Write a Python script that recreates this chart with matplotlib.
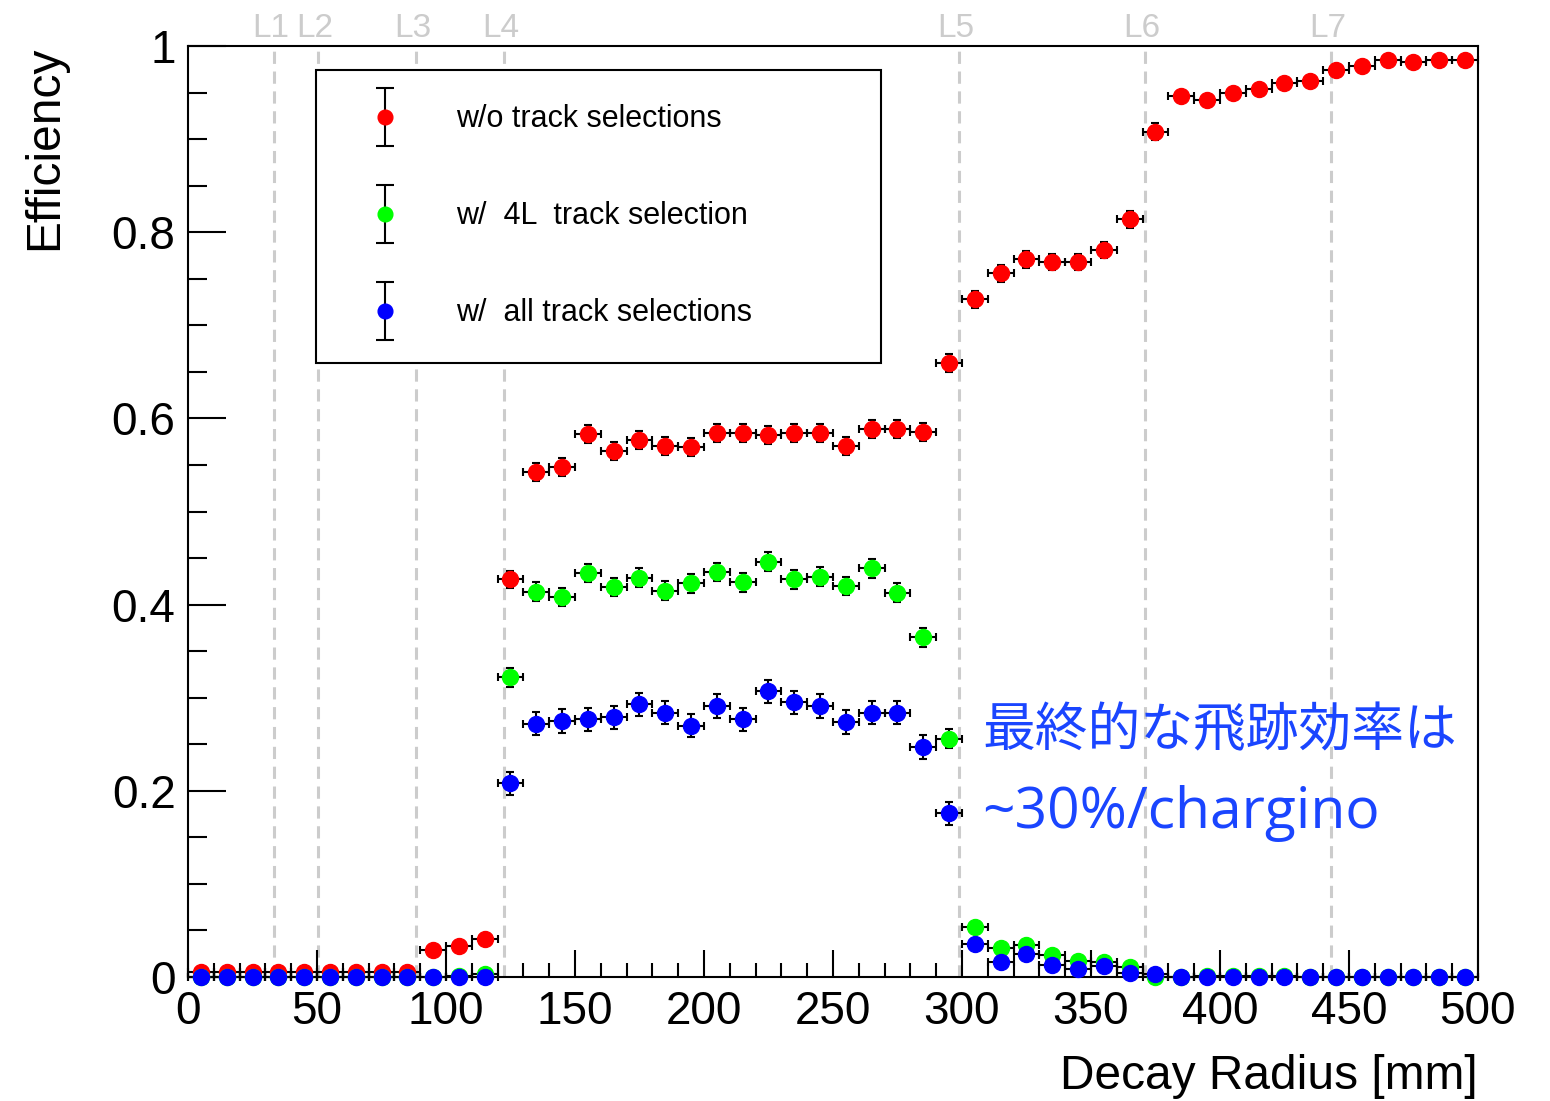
import numpy as np
import matplotlib
matplotlib.use('Agg')
import matplotlib.pyplot as plt
from matplotlib.container import ErrorbarContainer
from matplotlib.legend_handler import HandlerErrorbar

plt.rcParams['font.family'] = ['Liberation Sans', 'DejaVu Sans']

# data: efficiency vs decay radius, 10 mm bins from 0 to 500 mm
bin_centers = np.arange(5, 500, 10)
bin_half_width = 5

eff_no_sel = [0.005, 0.005, 0.005, 0.005, 0.005, 0.005, 0.005, 0.005, 0.005,
              0.029, 0.033, 0.041,
              0.427, 0.542, 0.548, 0.583, 0.565, 0.577, 0.570, 0.569, 0.584,
              0.584, 0.582, 0.584, 0.584, 0.570, 0.589, 0.589, 0.585, 0.660,
              0.728, 0.756, 0.771, 0.768, 0.768, 0.781, 0.814, 0.908, 0.946, 0.942,
              0.950, 0.954, 0.960, 0.962, 0.974, 0.979, 0.985, 0.983, 0.985, 0.985]
err_no_sel = [0.002] * 9 + [0.005] * 3 + [0.009] + [0.0097] * 17 + \
             [0.009] * 8 + [0.005] * 6 + [0.004] * 6

eff_4l_sel = [0.0, 0.0, 0.0, 0.0, 0.0, 0.0, 0.0, 0.0, 0.0,
              0.0, 0.001, 0.003,
              0.322, 0.414, 0.408, 0.434, 0.419, 0.429, 0.415, 0.423, 0.435,
              0.424, 0.446, 0.427, 0.430, 0.420, 0.439, 0.413, 0.365, 0.256,
              0.054, 0.031, 0.034, 0.024, 0.017, 0.016, 0.011, 0.0, 0.0, 0.001,
              0.001, 0.001, 0.001, 0.0, 0.0, 0.0, 0.0, 0.0, 0.0, 0.0]
err_4l_sel = [0.001] * 12 + [0.0100] * 18 + [0.004] * 7 + [0.001] * 13

eff_all_sel = [0.0, 0.0, 0.0, 0.0, 0.0, 0.0, 0.0, 0.0, 0.0,
               0.0, 0.0, 0.0,
               0.208, 0.272, 0.275, 0.277, 0.279, 0.293, 0.284, 0.270, 0.291,
               0.277, 0.307, 0.295, 0.291, 0.274, 0.284, 0.284, 0.247, 0.176,
               0.036, 0.016, 0.025, 0.013, 0.009, 0.012, 0.004, 0.003, 0.0, 0.0,
               0.0, 0.0, 0.0, 0.0, 0.0, 0.0, 0.0, 0.0, 0.0, 0.0]
err_all_sel = [0.001] * 12 + [0.0125] * 18 + [0.005] * 8 + [0.001] * 12

series_labels = ['w/o track selections', 'w/  4L  track selection', 'w/  all track selections']
series_colors = ['#ff0000', '#00ff00', '#0000ff']

# detector layer radii [mm]
layer_names = ['L1', 'L2', 'L3', 'L4', 'L5', 'L6', 'L7']
layer_radii = [33.25, 50.5, 88.5, 122.5, 299, 371, 443]

y_ticks = [0, 0.2, 0.4, 0.6, 0.8, 1.0]
y_tick_labels = ['0', '0.2', '0.4', '0.6', '0.8', '1']

fig = plt.figure(figsize=(15.5, 11.01), dpi=100)
ax = fig.add_axes([0.1213, 0.1126, 0.8322, 0.8456])

# layer lines
for name, r in zip(layer_names, layer_radii):
    ax.axvline(r, color='#cccccc', lw=2.2, dashes=(4, 2.5), zorder=1)
    ax.text(r - 1.2, 1.0097, name, transform=ax.get_xaxis_transform(),
            ha='center', va='baseline', fontsize=24, color='#cccccc')

# efficiency points
all_eff = [eff_no_sel, eff_4l_sel, eff_all_sel]
all_err = [err_no_sel, err_4l_sel, err_all_sel]
handles = []
for eff, err, col, lab in zip(all_eff, all_err, series_colors, series_labels):
    ax.errorbar(bin_centers, eff, xerr=bin_half_width, yerr=err, fmt='o',
                color=col, ms=11.5, mec=col, ecolor='black', elinewidth=1.5,
                capsize=3, capthick=1.5, clip_on=False, zorder=3)
    # proxy (outside the x range) with vertical error bar only, for the legend
    h = ax.errorbar([-100], [0.5], yerr=[0.01], fmt='o', color=col,
                    ms=11.5, mec=col, ecolor='black', elinewidth=1.5,
                    capsize=6.5, capthick=1.5, label=lab)
    handles.append(h)

leg = ax.legend(handles=handles, loc='upper left',
                bbox_to_anchor=(0.0992, 0.663, 0.438, 0.311), mode='expand',
                fontsize=22, frameon=True, fancybox=False, framealpha=1,
                edgecolor='black', borderpad=1.12, handlelength=2.30,
                handleheight=0.7, handletextpad=1.17, labelspacing=2.19,
                markerscale=0.92, borderaxespad=0,
                handler_map={ErrorbarContainer: HandlerErrorbar(xerr_size=0.5, yerr_size=0.95)})
leg.get_frame().set_linewidth(1.5)

# annotation
ax.text(308, 0.265, '最終的な飛跡効率は', fontsize=38, color='#1a45ff',
        ha='left', va='center', family=['Noto Sans CJK JP', 'DejaVu Sans'])
ax.text(308, 0.176, '~30%/chargino', fontsize=41, color='#1a45ff',
        ha='left', va='center', family=['Open Sans', 'Noto Sans CJK JP'])

ax.set_xlim(0, 500)
ax.set_ylim(0, 1)
ax.set_xticks(np.arange(0, 501, 50))
ax.set_xticks(np.arange(0, 501, 10), minor=True)
ax.set_yticks(y_ticks)
ax.set_yticklabels(y_tick_labels)
ax.set_yticks(np.arange(0, 1.001, 0.05), minor=True)

ax.tick_params(axis='both', which='both', direction='in', top=False, right=False,
               width=1.5, labelsize=33)
ax.tick_params(axis='y', which='major', length=27, pad=9)
ax.tick_params(axis='y', which='minor', length=14)
ax.tick_params(axis='x', which='major', length=19.5, pad=9)
ax.tick_params(axis='x', which='minor', length=10)

for sp in ax.spines.values():
    sp.set_linewidth(1.5)

ax.set_xlabel('Decay Radius [mm]', fontsize=34.5, loc='right')
ax.xaxis.set_label_coords(1.0, -0.0825)
ax.set_ylabel('Efficiency', fontsize=34.5, loc='top')
ax.yaxis.set_label_coords(-0.094, 1.0)

fig.savefig('out.png', dpi=100)
